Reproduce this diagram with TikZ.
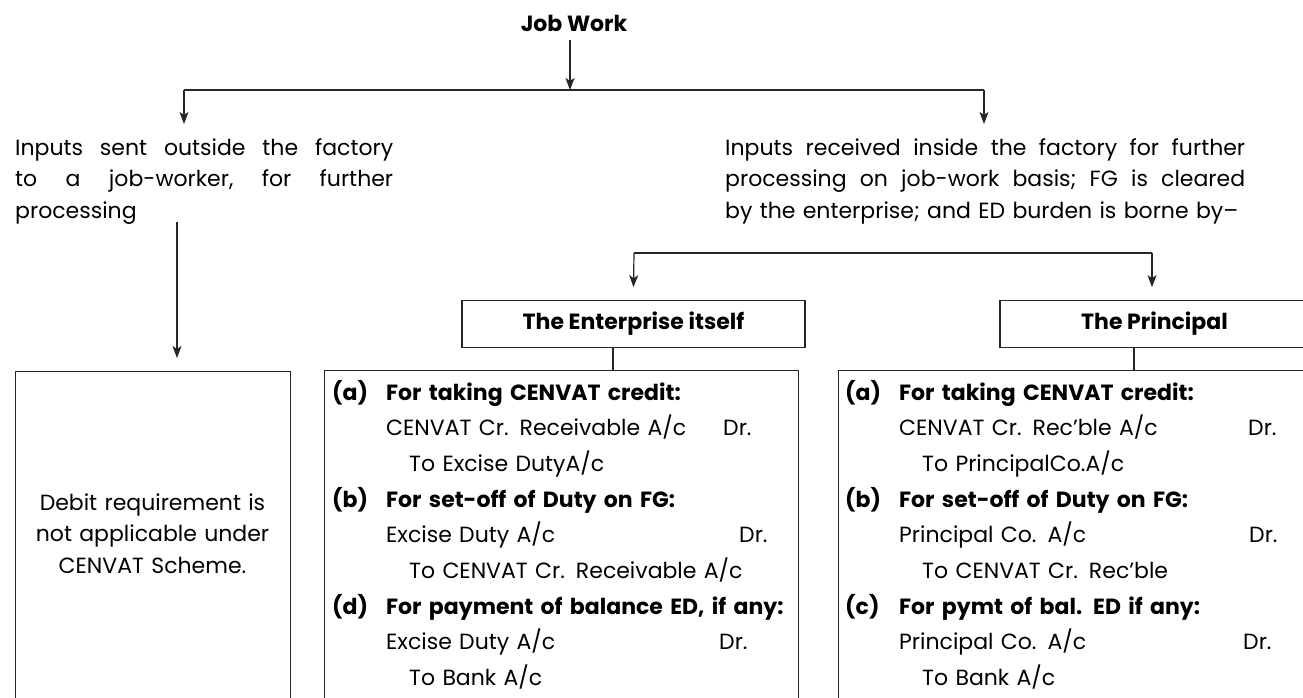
\documentclass[tikz,border=0pt]{standalone}
\usepackage{fontspec}
\setmainfont{Poppins}
\usetikzlibrary{arrows.meta}

\tikzset{
  wire/.style={line width=1.2pt, draw=black!85},
  arr/.style={wire, -{Stealth[length=12pt, width=9pt, inset=3pt]}},
  frame/.style={draw=black!85, line width=1.2pt, inner sep=0pt},
  body/.style={font=\fontsize{22}{35.7}\selectfont, inner sep=0pt, align=left},
  para/.style={font=\fontsize{22}{31.5}\selectfont, inner sep=0pt, align=left},
  headbox/.style={frame, font=\fontsize{22}{26}\selectfont\bfseries},
}
% a line spread evenly over a given width
\newcommand{\spreadline}[2]{\makebox[#1][s]{#2}}

\begin{document}
\begin{tikzpicture}[x=1pt, y=-1pt]
\useasboundingbox (0,0) rectangle (1303,698);
\clip (0,0) rectangle (1303,698);

% top heading and first split
\node[font=\fontsize{22}{26}\selectfont\bfseries, inner sep=0pt, anchor=base] (job) at (574,32) {Job Work};
\coordinate (split1) at (570,90);
\coordinate (s1L) at (184,90);
\coordinate (s1R) at (984,90);
\coordinate (tipOut) at (184,124);
\coordinate (tipIn) at (984,124);
\draw[arr] ([yshift=-8pt]job.south -| split1) -- (split1);
\draw[wire] (s1L) -- (s1R);
\draw[arr] (s1L) -- (tipOut);
\draw[arr] (s1R) -- (tipIn);

% the two kinds of job work
\node[para, text width=380pt, anchor=base west] (outside) at (15,155)
  {\spreadline{378pt}{Inputs\hfill sent\hfill outside\hfill the\hfill factory}\\
   \spreadline{378pt}{to\hfill a\hfill job-worker,\hfill for\hfill further}\\
   processing};
\node[para, text width=522pt, anchor=base west] (inside) at (725,155)
  {\spreadline{520pt}{Inputs\hfill received\hfill inside\hfill the\hfill factory\hfill for\hfill further}\\
   \spreadline{520pt}{processing\hfill on\hfill job-work\hfill basis;\hfill FG\hfill is\hfill cleared}\\
   by the enterprise; and ED burden is borne by–};

% left branch
\node[frame, minimum width=275pt, minimum height=360pt, anchor=north west] (debit) at (15,371) {};
\node[font=\fontsize{22}{31.5}\selectfont, inner sep=0pt, text width=270pt, align=center, anchor=base] (debittxt) at (152.5,510)
  {Debit requirement is\\not applicable under\\CENVAT Scheme.};
\coordinate (outFoot) at (177,222);
\draw[arr] (outFoot) -- ([yshift=13pt]debit.north -| outFoot);

% right branch: who bears the duty
\coordinate (s2L) at (634,253);
\coordinate (s2R) at (1152,253);
\node[headbox, minimum width=343pt, minimum height=46.5pt] (ent) at (633.5,324) {The Enterprise itself};
\node[headbox, minimum width=309pt, minimum height=46.5pt] (prin) at (1154.5,324) {The Principal};
\draw[wire] (s2L) -- (s2R);
\draw[arr] (s2L) -- ([yshift=13pt]ent.north);
\draw[arr] (s2R) -- ([yshift=13pt]prin.north -| s2R);

% journal entries, enterprise bears the duty
\node[frame, minimum width=474pt, minimum height=360pt, anchor=north west] (entbox) at (324,370) {};
\draw[wire] ([xshift=-20.5pt]ent.south) -- ([xshift=-20.5pt]ent.south |- entbox.north);
\node[body, text width=465pt, anchor=base west] (entries) at (332,400)
  {\makebox[54pt][l]{\bfseries (a)}\textbf{For taking CENVAT credit:}\\
   \hspace*{54pt}\makebox[337pt][l]{CENVAT Cr. Receivable A/c}Dr.\\
   \hspace*{77pt}To Excise DutyA/c\\
   \makebox[54pt][l]{\bfseries (b)}\textbf{For set-off of Duty on FG:}\\
   \hspace*{54pt}\makebox[353pt][l]{Excise Duty A/c}Dr.\\
   \hspace*{77pt}To CENVAT Cr. Receivable A/c\\
   \makebox[54pt][l]{\bfseries (d)}\textbf{For payment of balance ED, if any:}\\
   \hspace*{54pt}\makebox[333pt][l]{Excise Duty A/c}Dr.\\
   \hspace*{77pt}To Bank A/c};

% journal entries, principal bears the duty
\node[frame, minimum width=474pt, minimum height=360pt, anchor=north west] (prinbox) at (838,370) {};
\draw[wire] ([xshift=-20.5pt]prin.south) -- ([xshift=-20.5pt]prin.south |- prinbox.north);
\node[body, text width=465pt, anchor=base west] (pentries) at (845,400)
  {\makebox[54pt][l]{\bfseries (a)}\textbf{For taking CENVAT credit:}\\
   \hspace*{54pt}\makebox[349pt][l]{CENVAT Cr. Rec’ble A/c}Dr.\\
   \hspace*{77pt}To PrincipalCo.A/c\\
   \makebox[54pt][l]{\bfseries (b)}\textbf{For set-off of Duty on FG:}\\
   \hspace*{54pt}\makebox[350pt][l]{Principal Co. A/c}Dr.\\
   \hspace*{77pt}To CENVAT Cr. Rec’ble\\
   \makebox[54pt][l]{\bfseries (c)}\textbf{For pymt of bal. ED if any:}\\
   \hspace*{54pt}\makebox[344pt][l]{Principal Co. A/c}Dr.\\
   \hspace*{77pt}To Bank A/c};
\end{tikzpicture}
\end{document}
